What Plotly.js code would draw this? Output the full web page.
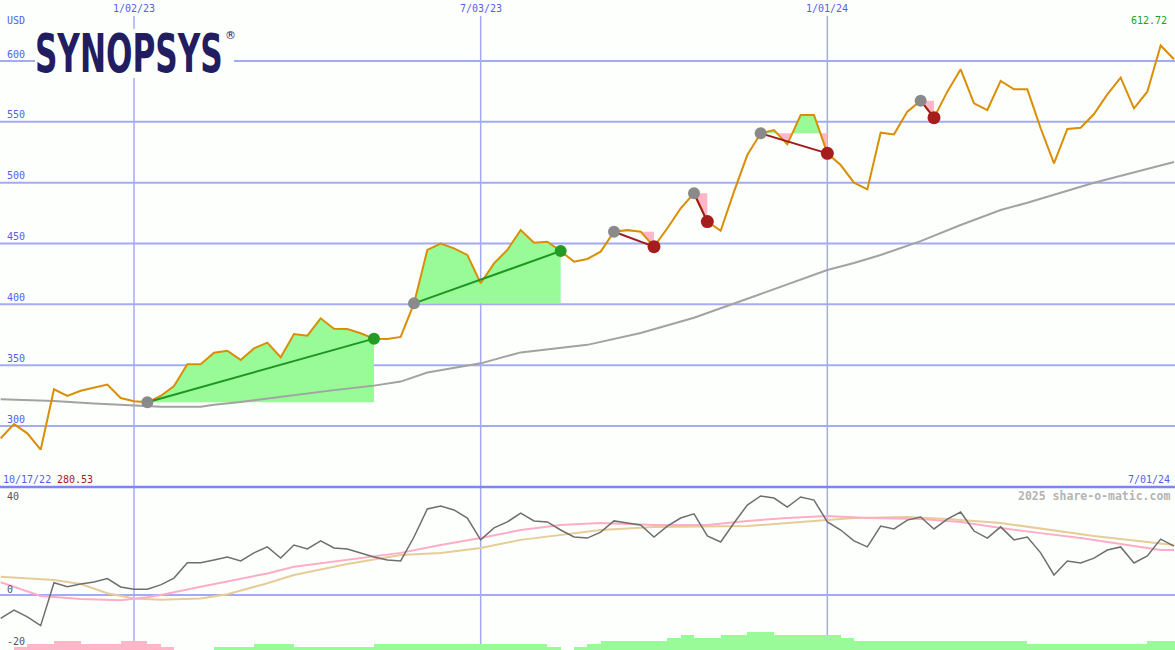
<!DOCTYPE html>
<html><head><meta charset="utf-8">
<script src="https://cdn.plot.ly/plotly-3.0.1.min.js"></script>
<style>html,body{margin:0;padding:0;background:#fdfffd;}#chart{width:1175px;height:650px;}</style>
</head><body><div id="chart"></div>
<script>
// ---------- data ----------
const firstWeek = [2022, 9, 24]; // Monday 10/24/22, weekly points
const price = [289.9,301.6,294,280.53,330.2,324.7,329,331.8,334,323,320.3,319.5,324.7,332.9,350.7,350.7,360.3,361.9,354.3,363.8,
  368.5,356.5,375.6,374.2,388.5,380,379.7,376.2,371.8,371.5,373.2,400.8,444.7,450,446,440.6,417.3,433.7,444.7,461.1,
  450.7,451.5,443.8,435,437.3,443.3,459.7,461,459.7,447.4,462.5,478.9,491.3,468,460.5,492.6,522.7,540.6,543.3,531.5,
  555.6,555.6,524.1,514.5,500,494.5,541.1,539.7,558.4,567.4,553.4,574.8,593.2,565.2,559.7,583.6,576.7,576.7,544.7,515.9,
  544.1,545.2,556.4,572.6,586.3,561.1,574.8,612.72,601.4];
const maWeeks  = [0,4,7,10,12,15,16,18,20,22,25,28,30,32,36,39,42,44,48,52,57,62,64,66,69,72,75,77,82,88];
const maValues = [321.9,320.5,318.5,316.7,315.9,315.9,317.5,319.7,322.5,325.5,329.5,333.2,336.5,344,351.5,360.5,364.4,366.7,376.4,389,
  408.5,428.2,434,440.6,452,465.2,477.5,483.5,500,517];
const oscillator = [-9.0,-5.8,-8.4,-11.8,4.7,3.2,4.2,5.0,6.3,3.1,2.2,2.2,3.9,6.5,12.4,12.4,13.5,14.6,13.1,16.2,
  18.5,14.2,19.2,17.7,20.8,18.1,17.7,16.2,14.6,13.5,13.1,22.3,33.1,34.2,32.7,29.6,21.2,25.8,28.1,31.5,
  28.5,28.1,25,22.3,21.9,24.2,28.5,27.7,26.9,22.3,26.5,29.6,31.2,22.7,20.4,27.7,34.6,38.1,37.3,33.8,
  37.7,36.5,28.1,25,20.8,18.5,26.5,25.4,28.8,30,25.4,29.2,31.9,24.6,21.9,26.2,21.2,22.3,16.2,7.7,
  13.1,12.3,14.2,17.3,18.5,12.3,15,21.5,18.8];
const pinkWeeks  = [0,2,3,6,9,11,12,15,18,20,22,26,30,33,36,39,42,45,49,53,56,59,62,65,69,72,75,78,81,84,87,88];
const pinkValues = [4.9,1.3,-0.4,-1.5,-2.0,-0.9,0,3.2,6.4,8.3,10.9,13.5,16.2,19.2,21.9,25,26.9,27.7,26.9,26.9,28.5,29.6,30.4,29.6,29.2,28.1,25.8,23.8,21.9,19.6,17.3,17.3];
const tanWeeks  = [0,4,6,8,10,12,15,17,20,22,26,30,33,36,39,42,45,49,53,56,60,64,68,71,75,79,82,86,88];
const tanValues = [7.0,5.8,4.2,0.65,-1.3,-1.8,-1.3,0.3,4.5,7.7,11.9,15.4,16.2,18.1,21.2,23.1,25,26.2,26.5,26.5,28.1,29.6,30,29.2,27.7,25,22.7,20.4,19.2];
const histogram = [0,-1,-2,-2,-3,-3,-2,-2,-2,-3,-3,-2,-1,0,0,0,1,1,1,2,2,2,1,1,1,1,1,1,2,2,2,2,2,2,2,2,2,2,2,2,2,1,0,1,2,
  3,3,3,3,3,4,5,4,4,5,5,6,6,5,5,5,5,5,4,3,3,3,3,3,3,3,3,3,3,3,3,3,2,2,2,2,2,2,2,2,2,3,3,3];
const buySignals  = [[11,28],[31,42]];
const sellSignals = [[46,49],[52,53],[57,62],[69,70]];
const dateTicks = ['2023-01-02','2023-07-03','2024-01-01'];
const dateTickLabels = ['1/02/23','7/03/23','1/01/24'];
const priceTicks = [300,350,400,450,500,550,600];
const oscTickLabels = ['40','0','-20'];
const currency = 'USD', lastHigh = '612.72', startLabel = '10/17/22', lowLabel = '280.53', endLabel = '7/01/24';
const credit = '2025 share-o-matic.com';
const logoName = 'SYNOPSYS', logoMark = '®';

// ---------- helpers ----------
const DAY = 86400000;
const t0 = Date.UTC(firstWeek[0], firstWeek[1], firstWeek[2]);
const wk = k => t0 + k * 7 * DAY;
const W = 1175, H = 650;
const pxPerDay = 13.3333 / 7;
const xr0 = t0 - 0.35 * DAY, xr1 = xr0 + (W / pxPerDay) * DAY;
const topBottomPx = 487, lowTopPx = 489;
const py = p => 1 - p / H;
const idx = price.map((_, k) => k);

const GREEN_FILL = '#98fb98', PINK_FILL = '#ffb6c8';
const traces = [];

function addFill(s, e) {
  const level = price[s];
  const pts = [];
  for (let k = s; k <= e; k++) {
    if (k > s) {
      const a = price[k - 1] - level, b = price[k] - level;
      if (a * b < 0) { const t = a / (a - b); pts.push([wk(k - 1 + t), level]); }
    }
    pts.push([wk(k), price[k]]);
  }
  const up = {x: [], y: []}, dn = {x: [], y: []};
  pts.forEach(p => { up.x.push(p[0]); up.y.push(Math.max(p[1], level)); dn.x.push(p[0]); dn.y.push(Math.min(p[1], level)); });
  [up, dn].forEach(poly => { poly.x.push(wk(e), wk(s)); poly.y.push(level, level); });
  traces.push({x: up.x, y: up.y, mode: 'lines', fill: 'toself', fillcolor: GREEN_FILL, line: {width: 0}, hoverinfo: 'skip'});
  traces.push({x: dn.x, y: dn.y, mode: 'lines', fill: 'toself', fillcolor: PINK_FILL, line: {width: 0}, hoverinfo: 'skip'});
}
buySignals.concat(sellSignals).forEach(([s, e]) => addFill(s, e));

traces.push({x: maWeeks.map(wk), y: maValues, mode: 'lines', line: {color: '#a2a2a2', width: 2}});
traces.push({x: idx.map(wk), y: price, mode: 'lines', line: {color: '#d98e04', width: 2}});
buySignals.forEach(([s, e]) => traces.push({x: [wk(s), wk(e)], y: [price[s], price[e]], mode: 'lines', line: {color: '#1f961f', width: 2}}));
sellSignals.forEach(([s, e]) => traces.push({x: [wk(s), wk(e)], y: [price[s], price[e]], mode: 'lines', line: {color: '#a01c1c', width: 2}}));
const allSig = buySignals.concat(sellSignals);
traces.push({x: allSig.map(s => wk(s[0])), y: allSig.map(s => price[s[0]]), mode: 'markers', marker: {color: '#8a8a8a', size: 12}});
traces.push({x: buySignals.map(s => wk(s[1])), y: buySignals.map(s => price[s[1]]), mode: 'markers', marker: {color: '#249c24', size: 12}});
traces.push({x: sellSignals.map(s => wk(s[1])), y: sellSignals.map(s => price[s[1]]), mode: 'markers', marker: {color: '#a51d1d', size: 13}});

// lower panel
traces.push({type: 'bar', x: idx.map(k => wk(k) + 3.5 * DAY), y: histogram.map(Math.abs), width: 7 * DAY,
  marker: {color: histogram.map(v => v < 0 ? PINK_FILL : GREEN_FILL), line: {width: 0}}, yaxis: 'y3'});
traces.push({x: tanWeeks.map(wk), y: tanValues, mode: 'lines', line: {color: '#e6cc98', width: 2}, yaxis: 'y2'});
traces.push({x: pinkWeeks.map(wk), y: pinkValues, mode: 'lines', line: {color: '#ffadc6', width: 2}, yaxis: 'y2'});
traces.push({x: idx.map(wk), y: oscillator, mode: 'lines', line: {color: '#6e6e6e', width: 1.5}, yaxis: 'y2'});

// ---------- layout ----------
const GRID = '#a4abf2', LBL = '#5560e8', MONO = 'DejaVu Sans Mono';
const shapes = [];
priceTicks.forEach(v => shapes.push({type: 'line', xref: 'paper', x0: 0, x1: 1, yref: 'y', y0: v, y1: v, line: {color: GRID, width: 2}, layer: 'below'}));
dateTicks.forEach(d => shapes.push({type: 'line', xref: 'x', x0: d, x1: d, yref: 'paper', y0: 0, y1: py(16), line: {color: GRID, width: 1.5}, layer: 'below'}));
shapes.push({type: 'line', xref: 'paper', x0: 0, x1: 1, yref: 'y2', y0: 0, y1: 0, line: {color: GRID, width: 2}, layer: 'below'});
shapes.push({type: 'line', xref: 'paper', x0: 0, x1: 1, yref: 'paper', y0: py(487), y1: py(487), line: {color: '#7c86ec', width: 2.5}, layer: 'above'});
shapes.push({type: 'rect', xref: 'paper', yref: 'paper', x0: 35 / W, x1: 234 / W, y0: py(78), y1: py(29), fillcolor: '#fdfffd', line: {width: 0}, layer: 'above'});

const ann = [];
const lab = (text, xpx, ypx, color, anchor, size, extra) => ann.push(Object.assign({text, xref: 'paper', yref: 'paper', x: xpx / W, y: py(ypx),
  xanchor: anchor, yanchor: 'middle', showarrow: false, font: {family: MONO, size: size || 10, color}}, extra || {}));
dateTicks.forEach((d, i) => ann.push({text: dateTickLabels[i], xref: 'x', x: d, yref: 'paper', y: py(8), xanchor: 'center', yanchor: 'middle', showarrow: false, font: {family: MONO, size: 10, color: LBL}}));
priceTicks.forEach(v => ann.push({text: String(v), xref: 'paper', x: 5 / W, yref: 'y', y: v, yshift: 7, xanchor: 'left', yanchor: 'middle', showarrow: false, font: {family: MONO, size: 10, color: LBL}}));
lab(currency, 5, 21, LBL, 'left');
lab(lastHigh, 1169, 21, '#22a022', 'right');
lab(startLabel, 1, 479, LBL, 'left');
lab(lowLabel, 55, 479, '#a31a1a', 'left');
lab(endLabel, 1172, 479, LBL, 'right');
lab(credit, 1172, 496, '#b4b4b4', 'right', 11.5, {font: {family: MONO, size: 11.5, color: '#b4b4b4', weight: 'bold'}});
lab(oscTickLabels[0], 5, 496, '#555555', 'left');
lab(oscTickLabels[1], 5, 589, '#555555', 'left');
lab(oscTickLabels[2], 5, 641, '#555555', 'left');
// logo
const LOGO_CX = 129, LOGO_W = 188;
ann.push({text: logoName, xref: 'paper', yref: 'paper', x: LOGO_CX / W, y: py(53), xanchor: 'center', yanchor: 'middle', showarrow: false,
  font: {family: 'DejaVu Sans', size: 53, color: '#221c60', weight: 'bold'}});
ann.push({text: logoMark, xref: 'paper', yref: 'paper', x: 230 / W, y: py(36), xanchor: 'center', yanchor: 'middle', showarrow: false,
  font: {family: 'DejaVu Sans', size: 11, color: '#221c60'}});

const layout = {
  width: W, height: H, margin: {l: 0, r: 0, t: 0, b: 0}, showlegend: false,
  paper_bgcolor: '#fdfffd', plot_bgcolor: 'rgba(0,0,0,0)', bargap: 0,
  xaxis: {type: 'date', range: [xr0, xr1], visible: false, fixedrange: true},
  yaxis: {domain: [py(topBottomPx), 1], range: [600 - 426 / 1.2167, 600 + 61 / 1.2167], visible: false},
  yaxis2: {domain: [0, py(lowTopPx)], range: [-(H - 595) / 2.6, (595 - lowTopPx) / 2.6], visible: false},
  yaxis3: {overlaying: 'y2', range: [0, (H - lowTopPx) / 3], visible: false},
  shapes, annotations: ann
};
Plotly.newPlot('chart', traces, layout, {staticPlot: true, displayModeBar: false}).then(() => {
  document.querySelectorAll('.annotation-text').forEach(t => {
    if (t.textContent === logoName) {
      const w = t.getBBox().width;
      const s = LOGO_W / w;
      const g = t.closest('g.annotation') || t.parentNode;
      g.setAttribute('transform', 'translate(' + LOGO_CX + ',0) scale(' + s + ',1) translate(' + (-LOGO_CX) + ',0)');
    }
  });
});
</script></body></html>
